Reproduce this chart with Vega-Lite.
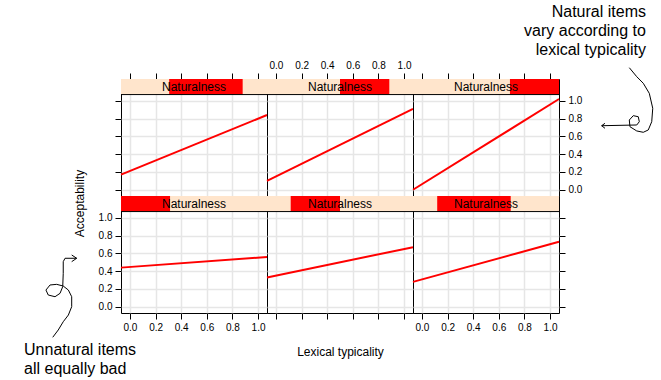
{
  "$schema": "https://vega.github.io/schema/vega-lite/v6.json",
  "autosize": {"type": "none"},
  "padding": {"left": 121, "top": 79, "right": 540, "bottom": 301},
  "background": "#ffffff",
  "config": {
    "view": {"stroke": "#000000", "strokeWidth": 1},
    "axis": {
      "domain": false,
      "tickColor": "#000000",
      "tickSize": 6,
      "tickWidth": 1,
      "tickCount": 12,
      "labelFont": "Liberation Sans",
      "labelFontSize": 10,
      "labelColor": "#000000",
      "labelPadding": 3,
      "labelFlush": false,
      "labelOverlap": false,
      "labelBound": false,
      "gridColor": "#e6e6e6",
      "gridWidth": 1.5,
      "titleFont": "Liberation Sans",
      "titleFontSize": 12,
      "titleFontWeight": "normal",
      "titleColor": "#000000"
    }
  },
  "datasets": {
    "lines": [
      {"panel": 1, "x": -0.07, "y": 0.44}, {"panel": 1, "x": 1.07, "y": 0.56},
      {"panel": 2, "x": -0.07, "y": 0.33}, {"panel": 2, "x": 1.07, "y": 0.67},
      {"panel": 3, "x": -0.07, "y": 0.28}, {"panel": 3, "x": 1.07, "y": 0.73},
      {"panel": 4, "x": -0.07, "y": 0.17}, {"panel": 4, "x": 1.07, "y": 0.84},
      {"panel": 5, "x": -0.07, "y": 0.10}, {"panel": 5, "x": 1.07, "y": 0.91},
      {"panel": 6, "x": -0.07, "y": 0.00}, {"panel": 6, "x": 1.07, "y": 1.02}
    ],
    "strips": [
      {"panel": 1, "label": "Naturalness", "lo": -0.07, "hi": 0.313},
      {"panel": 2, "label": "Naturalness", "lo": 0.115, "hi": 0.50},
      {"panel": 3, "label": "Naturalness", "lo": 0.119, "hi": 0.693},
      {"panel": 4, "label": "Naturalness", "lo": 0.306, "hi": 0.880},
      {"panel": 5, "label": "Naturalness", "lo": 0.50, "hi": 0.885},
      {"panel": 6, "label": "Naturalness", "lo": 0.687, "hi": 1.07}
    ],
    "notes": [
      {"panel": 6, "label": "Natural items\nvary according to\nlexical typicality", "x": 1.749, "y": 1.942},
      {"panel": 1, "label": "Unnatural items\nall equally bad", "x": -0.827, "y": -0.542}
    ],
    "squig": [
      {"panel": 1, "seg": "a", "i": 1, "x": -0.603, "y": -0.343},
      {"panel": 1, "seg": "a", "i": 2, "x": -0.560, "y": -0.261},
      {"panel": 1, "seg": "a", "i": 3, "x": -0.521, "y": -0.168},
      {"panel": 1, "seg": "a", "i": 4, "x": -0.481, "y": -0.093},
      {"panel": 1, "seg": "a", "i": 5, "x": -0.455, "y": 0.001},
      {"panel": 1, "seg": "a", "i": 6, "x": -0.455, "y": 0.113},
      {"panel": 1, "seg": "a", "i": 7, "x": -0.481, "y": 0.188},
      {"panel": 1, "seg": "a", "i": 8, "x": -0.521, "y": 0.233},
      {"panel": 1, "seg": "a", "i": 9, "x": -0.572, "y": 0.252},
      {"panel": 1, "seg": "a", "i": 10, "x": -0.624, "y": 0.245},
      {"panel": 1, "seg": "a", "i": 11, "x": -0.656, "y": 0.188},
      {"panel": 1, "seg": "a", "i": 12, "x": -0.638, "y": 0.132},
      {"panel": 1, "seg": "a", "i": 13, "x": -0.585, "y": 0.113},
      {"panel": 1, "seg": "a", "i": 14, "x": -0.546, "y": 0.151},
      {"panel": 1, "seg": "a", "i": 15, "x": -0.525, "y": 0.226},
      {"panel": 1, "seg": "a", "i": 16, "x": -0.521, "y": 0.376},
      {"panel": 1, "seg": "a", "i": 17, "x": -0.521, "y": 0.507},
      {"panel": 1, "seg": "a", "i": 18, "x": -0.507, "y": 0.545},
      {"panel": 1, "seg": "a", "i": 19, "x": -0.468, "y": 0.545},
      {"panel": 1, "seg": "a", "i": 20, "x": -0.416, "y": 0.545},
      {"panel": 1, "seg": "h", "i": 1, "x": -0.455, "y": 0.582},
      {"panel": 1, "seg": "h", "i": 2, "x": -0.416, "y": 0.545},
      {"panel": 1, "seg": "h", "i": 3, "x": -0.455, "y": 0.507},
      {"panel": 6, "seg": "a", "i": 1, "x": 1.619, "y": 1.372},
      {"panel": 6, "seg": "a", "i": 2, "x": 1.677, "y": 1.271},
      {"panel": 6, "seg": "a", "i": 3, "x": 1.728, "y": 1.197},
      {"panel": 6, "seg": "a", "i": 4, "x": 1.775, "y": 1.084},
      {"panel": 6, "seg": "a", "i": 5, "x": 1.802, "y": 0.916},
      {"panel": 6, "seg": "a", "i": 6, "x": 1.794, "y": 0.765},
      {"panel": 6, "seg": "a", "i": 7, "x": 1.767, "y": 0.672},
      {"panel": 6, "seg": "a", "i": 8, "x": 1.728, "y": 0.646},
      {"panel": 6, "seg": "a", "i": 9, "x": 1.677, "y": 0.661},
      {"panel": 6, "seg": "a", "i": 10, "x": 1.624, "y": 0.709},
      {"panel": 6, "seg": "a", "i": 11, "x": 1.619, "y": 0.784},
      {"panel": 6, "seg": "a", "i": 12, "x": 1.650, "y": 0.833},
      {"panel": 6, "seg": "a", "i": 13, "x": 1.689, "y": 0.821},
      {"panel": 6, "seg": "a", "i": 14, "x": 1.697, "y": 0.765},
      {"panel": 6, "seg": "a", "i": 15, "x": 1.677, "y": 0.728},
      {"panel": 6, "seg": "a", "i": 16, "x": 1.403, "y": 0.720},
      {"panel": 6, "seg": "h", "i": 1, "x": 1.429, "y": 0.747},
      {"panel": 6, "seg": "h", "i": 2, "x": 1.403, "y": 0.720},
      {"panel": 6, "seg": "h", "i": 3, "x": 1.429, "y": 0.691}
    ]
  },
  "concat": [
    {
      "width": 146, "height": 117,
      "layer": [
        {"data": {"name": "lines"}, "transform": [{"filter": "datum.panel == 4"}],
         "mark": {"type": "line", "color": "#ff0000", "strokeWidth": 2},
         "encoding": {
           "x": {"field": "x", "type": "quantitative", "scale": {"domain": [-0.07, 1.07], "nice": false, "zero": false},
                 "axis": {"orient": "top", "values": [0, 0.2, 0.4, 0.6, 0.8, 1], "tickCount": 12, "labels": false, "title": null}},
           "y": {"field": "y", "type": "quantitative", "scale": {"domain": [-0.07, 1.245], "nice": false, "zero": false},
                 "axis": {"orient": "left", "values": [0, 0.2, 0.4, 0.6, 0.8, 1], "tickCount": 12, "labels": false, "title": null}}}},
        {"data": {"name": "strips"}, "transform": [{"filter": "datum.panel == 4"}],
         "mark": {"type": "rect", "fill": "#ffe5cc"},
         "encoding": {
           "x": {"datum": -0.07, "type": "quantitative", "scale": {"domain": [-0.07, 1.07], "nice": false, "zero": false}},
           "x2": {"datum": 1.07},
           "y": {"datum": 1.07, "type": "quantitative", "scale": {"domain": [-0.07, 1.245], "nice": false, "zero": false}},
           "y2": {"datum": 1.245}}},
        {"data": {"name": "strips"}, "transform": [{"filter": "datum.panel == 4"}],
         "mark": {"type": "rect", "fill": "#ff0000"},
         "encoding": {
           "x": {"field": "lo", "type": "quantitative", "scale": {"domain": [-0.07, 1.07], "nice": false, "zero": false}},
           "x2": {"field": "hi"},
           "y": {"datum": 1.07, "type": "quantitative", "scale": {"domain": [-0.07, 1.245], "nice": false, "zero": false}},
           "y2": {"datum": 1.245}}},
        {"data": {"name": "strips"}, "transform": [{"filter": "datum.panel == 4"}],
         "mark": {"type": "text", "font": "Liberation Sans", "fontSize": 12, "baseline": "middle", "color": "#000000"},
         "encoding": {
           "x": {"datum": 0.5, "type": "quantitative", "scale": {"domain": [-0.07, 1.07], "nice": false, "zero": false}},
           "y": {"datum": 1.1575, "type": "quantitative", "scale": {"domain": [-0.07, 1.245], "nice": false, "zero": false}},
           "text": {"field": "label"}}},
        {"data": {"name": "strips"}, "transform": [{"filter": "datum.panel == 4"}],
         "mark": {"type": "rule", "color": "#000000", "strokeWidth": 1},
         "encoding": {
           "y": {"datum": 1.07, "type": "quantitative", "scale": {"domain": [-0.07, 1.245], "nice": false, "zero": false}}}}
      ]
    },
    {
      "width": 146, "height": 117,
      "layer": [
        {"data": {"name": "lines"}, "transform": [{"filter": "datum.panel == 5"}],
         "mark": {"type": "line", "color": "#ff0000", "strokeWidth": 2},
         "encoding": {
           "x": {"field": "x", "type": "quantitative", "scale": {"domain": [-0.07, 1.07], "nice": false, "zero": false},
                 "axis": {"orient": "top", "values": [0, 0.2, 0.4, 0.6, 0.8, 1], "tickCount": 12, "format": ".1f", "title": null}},
           "y": {"field": "y", "type": "quantitative", "scale": {"domain": [-0.07, 1.245], "nice": false, "zero": false},
                 "axis": {"orient": "left", "values": [0, 0.2, 0.4, 0.6, 0.8, 1], "tickCount": 12, "labels": false, "ticks": false, "title": null}}}},
        {"data": {"name": "strips"}, "transform": [{"filter": "datum.panel == 5"}],
         "mark": {"type": "rect", "fill": "#ffe5cc"},
         "encoding": {
           "x": {"datum": -0.07, "type": "quantitative", "scale": {"domain": [-0.07, 1.07], "nice": false, "zero": false}},
           "x2": {"datum": 1.07},
           "y": {"datum": 1.07, "type": "quantitative", "scale": {"domain": [-0.07, 1.245], "nice": false, "zero": false}},
           "y2": {"datum": 1.245}}},
        {"data": {"name": "strips"}, "transform": [{"filter": "datum.panel == 5"}],
         "mark": {"type": "rect", "fill": "#ff0000"},
         "encoding": {
           "x": {"field": "lo", "type": "quantitative", "scale": {"domain": [-0.07, 1.07], "nice": false, "zero": false}},
           "x2": {"field": "hi"},
           "y": {"datum": 1.07, "type": "quantitative", "scale": {"domain": [-0.07, 1.245], "nice": false, "zero": false}},
           "y2": {"datum": 1.245}}},
        {"data": {"name": "strips"}, "transform": [{"filter": "datum.panel == 5"}],
         "mark": {"type": "text", "font": "Liberation Sans", "fontSize": 12, "baseline": "middle", "color": "#000000"},
         "encoding": {
           "x": {"datum": 0.5, "type": "quantitative", "scale": {"domain": [-0.07, 1.07], "nice": false, "zero": false}},
           "y": {"datum": 1.1575, "type": "quantitative", "scale": {"domain": [-0.07, 1.245], "nice": false, "zero": false}},
           "text": {"field": "label"}}},
        {"data": {"name": "strips"}, "transform": [{"filter": "datum.panel == 5"}],
         "mark": {"type": "rule", "color": "#000000", "strokeWidth": 1},
         "encoding": {
           "y": {"datum": 1.07, "type": "quantitative", "scale": {"domain": [-0.07, 1.245], "nice": false, "zero": false}}}}
      ]
    },
    {
      "width": 146, "height": 117,
      "layer": [
        {"data": {"name": "lines"}, "transform": [{"filter": "datum.panel == 6"}],
         "mark": {"type": "line", "color": "#ff0000", "strokeWidth": 2},
         "encoding": {
           "x": {"field": "x", "type": "quantitative", "scale": {"domain": [-0.07, 1.07], "nice": false, "zero": false},
                 "axis": {"orient": "top", "values": [0, 0.2, 0.4, 0.6, 0.8, 1], "tickCount": 12, "labels": false, "title": null}},
           "y": {"field": "y", "type": "quantitative", "scale": {"domain": [-0.07, 1.245], "nice": false, "zero": false},
                 "axis": {"orient": "right", "values": [0, 0.2, 0.4, 0.6, 0.8, 1], "tickCount": 12, "format": ".1f", "title": null}}}},
        {"data": {"name": "strips"}, "transform": [{"filter": "datum.panel == 6"}],
         "mark": {"type": "rect", "fill": "#ffe5cc"},
         "encoding": {
           "x": {"datum": -0.07, "type": "quantitative", "scale": {"domain": [-0.07, 1.07], "nice": false, "zero": false}},
           "x2": {"datum": 1.07},
           "y": {"datum": 1.07, "type": "quantitative", "scale": {"domain": [-0.07, 1.245], "nice": false, "zero": false}},
           "y2": {"datum": 1.245}}},
        {"data": {"name": "strips"}, "transform": [{"filter": "datum.panel == 6"}],
         "mark": {"type": "rect", "fill": "#ff0000"},
         "encoding": {
           "x": {"field": "lo", "type": "quantitative", "scale": {"domain": [-0.07, 1.07], "nice": false, "zero": false}},
           "x2": {"field": "hi"},
           "y": {"datum": 1.07, "type": "quantitative", "scale": {"domain": [-0.07, 1.245], "nice": false, "zero": false}},
           "y2": {"datum": 1.245}}},
        {"data": {"name": "strips"}, "transform": [{"filter": "datum.panel == 6"}],
         "mark": {"type": "text", "font": "Liberation Sans", "fontSize": 12, "baseline": "middle", "color": "#000000"},
         "encoding": {
           "x": {"datum": 0.5, "type": "quantitative", "scale": {"domain": [-0.07, 1.07], "nice": false, "zero": false}},
           "y": {"datum": 1.1575, "type": "quantitative", "scale": {"domain": [-0.07, 1.245], "nice": false, "zero": false}},
           "text": {"field": "label"}}},
        {"data": {"name": "strips"}, "transform": [{"filter": "datum.panel == 6"}],
         "mark": {"type": "rule", "color": "#000000", "strokeWidth": 1},
         "encoding": {
           "y": {"datum": 1.07, "type": "quantitative", "scale": {"domain": [-0.07, 1.245], "nice": false, "zero": false}}}},
        {"data": {"name": "notes"}, "transform": [{"filter": "datum.panel == 6"}],
         "mark": {"type": "text", "font": "Liberation Sans", "fontSize": 16, "align": "right", "baseline": "alphabetic", "lineBreak": "\n", "lineHeight": 19, "color": "#000000"},
         "encoding": {
           "x": {"field": "x", "type": "quantitative", "scale": {"domain": [-0.07, 1.07], "nice": false, "zero": false}},
           "y": {"field": "y", "type": "quantitative", "scale": {"domain": [-0.07, 1.245], "nice": false, "zero": false}},
           "text": {"field": "label"}}},
        {"data": {"name": "squig"}, "transform": [{"filter": "datum.panel == 6"}],
         "mark": {"type": "line", "color": "#000000", "strokeWidth": 1},
         "encoding": {
           "x": {"field": "x", "type": "quantitative", "scale": {"domain": [-0.07, 1.07], "nice": false, "zero": false}},
           "y": {"field": "y", "type": "quantitative", "scale": {"domain": [-0.07, 1.245], "nice": false, "zero": false}},
           "order": {"field": "i", "type": "quantitative"},
           "detail": {"field": "seg"}}}
      ]
    },
    {
      "width": 146, "height": 117,
      "layer": [
        {"data": {"name": "lines"}, "transform": [{"filter": "datum.panel == 1"}],
         "mark": {"type": "line", "color": "#ff0000", "strokeWidth": 2},
         "encoding": {
           "x": {"field": "x", "type": "quantitative", "scale": {"domain": [-0.07, 1.07], "nice": false, "zero": false},
                 "axis": {"orient": "bottom", "values": [0, 0.2, 0.4, 0.6, 0.8, 1], "tickCount": 12, "format": ".1f", "title": null}},
           "y": {"field": "y", "type": "quantitative", "scale": {"domain": [-0.07, 1.245], "nice": false, "zero": false},
                 "axis": {"orient": "left", "values": [0, 0.2, 0.4, 0.6, 0.8, 1], "tickCount": 12, "format": ".1f", "title": "Acceptability", "titleX": -37.5, "titleY": 7, "titleBaseline": "alphabetic", "titleAngle": 270}}}},
        {"data": {"name": "strips"}, "transform": [{"filter": "datum.panel == 1"}],
         "mark": {"type": "rect", "fill": "#ffe5cc"},
         "encoding": {
           "x": {"datum": -0.07, "type": "quantitative", "scale": {"domain": [-0.07, 1.07], "nice": false, "zero": false}},
           "x2": {"datum": 1.07},
           "y": {"datum": 1.07, "type": "quantitative", "scale": {"domain": [-0.07, 1.245], "nice": false, "zero": false}},
           "y2": {"datum": 1.245}}},
        {"data": {"name": "strips"}, "transform": [{"filter": "datum.panel == 1"}],
         "mark": {"type": "rect", "fill": "#ff0000"},
         "encoding": {
           "x": {"field": "lo", "type": "quantitative", "scale": {"domain": [-0.07, 1.07], "nice": false, "zero": false}},
           "x2": {"field": "hi"},
           "y": {"datum": 1.07, "type": "quantitative", "scale": {"domain": [-0.07, 1.245], "nice": false, "zero": false}},
           "y2": {"datum": 1.245}}},
        {"data": {"name": "strips"}, "transform": [{"filter": "datum.panel == 1"}],
         "mark": {"type": "text", "font": "Liberation Sans", "fontSize": 12, "baseline": "middle", "color": "#000000"},
         "encoding": {
           "x": {"datum": 0.5, "type": "quantitative", "scale": {"domain": [-0.07, 1.07], "nice": false, "zero": false}},
           "y": {"datum": 1.1575, "type": "quantitative", "scale": {"domain": [-0.07, 1.245], "nice": false, "zero": false}},
           "text": {"field": "label"}}},
        {"data": {"name": "strips"}, "transform": [{"filter": "datum.panel == 1"}],
         "mark": {"type": "rule", "color": "#000000", "strokeWidth": 1},
         "encoding": {
           "y": {"datum": 1.07, "type": "quantitative", "scale": {"domain": [-0.07, 1.245], "nice": false, "zero": false}}}},
        {"data": {"name": "notes"}, "transform": [{"filter": "datum.panel == 1"}],
         "mark": {"type": "text", "font": "Liberation Sans", "fontSize": 16, "align": "left", "baseline": "alphabetic", "lineBreak": "\n", "lineHeight": 19, "color": "#000000"},
         "encoding": {
           "x": {"field": "x", "type": "quantitative", "scale": {"domain": [-0.07, 1.07], "nice": false, "zero": false}},
           "y": {"field": "y", "type": "quantitative", "scale": {"domain": [-0.07, 1.245], "nice": false, "zero": false}},
           "text": {"field": "label"}}},
        {"data": {"name": "squig"}, "transform": [{"filter": "datum.panel == 1"}],
         "mark": {"type": "line", "color": "#000000", "strokeWidth": 1},
         "encoding": {
           "x": {"field": "x", "type": "quantitative", "scale": {"domain": [-0.07, 1.07], "nice": false, "zero": false}},
           "y": {"field": "y", "type": "quantitative", "scale": {"domain": [-0.07, 1.245], "nice": false, "zero": false}},
           "order": {"field": "i", "type": "quantitative"},
           "detail": {"field": "seg"}}}
      ]
    },
    {
      "width": 146, "height": 117,
      "layer": [
        {"data": {"name": "lines"}, "transform": [{"filter": "datum.panel == 2"}],
         "mark": {"type": "line", "color": "#ff0000", "strokeWidth": 2},
         "encoding": {
           "x": {"field": "x", "type": "quantitative", "scale": {"domain": [-0.07, 1.07], "nice": false, "zero": false},
                 "axis": {"orient": "bottom", "values": [0, 0.2, 0.4, 0.6, 0.8, 1], "tickCount": 12, "labels": false, "title": "Lexical typicality", "titleY": 42, "titleBaseline": "alphabetic"}},
           "y": {"field": "y", "type": "quantitative", "scale": {"domain": [-0.07, 1.245], "nice": false, "zero": false},
                 "axis": {"orient": "left", "values": [0, 0.2, 0.4, 0.6, 0.8, 1], "tickCount": 12, "labels": false, "ticks": false, "title": null}}}},
        {"data": {"name": "strips"}, "transform": [{"filter": "datum.panel == 2"}],
         "mark": {"type": "rect", "fill": "#ffe5cc"},
         "encoding": {
           "x": {"datum": -0.07, "type": "quantitative", "scale": {"domain": [-0.07, 1.07], "nice": false, "zero": false}},
           "x2": {"datum": 1.07},
           "y": {"datum": 1.07, "type": "quantitative", "scale": {"domain": [-0.07, 1.245], "nice": false, "zero": false}},
           "y2": {"datum": 1.245}}},
        {"data": {"name": "strips"}, "transform": [{"filter": "datum.panel == 2"}],
         "mark": {"type": "rect", "fill": "#ff0000"},
         "encoding": {
           "x": {"field": "lo", "type": "quantitative", "scale": {"domain": [-0.07, 1.07], "nice": false, "zero": false}},
           "x2": {"field": "hi"},
           "y": {"datum": 1.07, "type": "quantitative", "scale": {"domain": [-0.07, 1.245], "nice": false, "zero": false}},
           "y2": {"datum": 1.245}}},
        {"data": {"name": "strips"}, "transform": [{"filter": "datum.panel == 2"}],
         "mark": {"type": "text", "font": "Liberation Sans", "fontSize": 12, "baseline": "middle", "color": "#000000"},
         "encoding": {
           "x": {"datum": 0.5, "type": "quantitative", "scale": {"domain": [-0.07, 1.07], "nice": false, "zero": false}},
           "y": {"datum": 1.1575, "type": "quantitative", "scale": {"domain": [-0.07, 1.245], "nice": false, "zero": false}},
           "text": {"field": "label"}}},
        {"data": {"name": "strips"}, "transform": [{"filter": "datum.panel == 2"}],
         "mark": {"type": "rule", "color": "#000000", "strokeWidth": 1},
         "encoding": {
           "y": {"datum": 1.07, "type": "quantitative", "scale": {"domain": [-0.07, 1.245], "nice": false, "zero": false}}}}
      ]
    },
    {
      "width": 146, "height": 117,
      "layer": [
        {"data": {"name": "lines"}, "transform": [{"filter": "datum.panel == 3"}],
         "mark": {"type": "line", "color": "#ff0000", "strokeWidth": 2},
         "encoding": {
           "x": {"field": "x", "type": "quantitative", "scale": {"domain": [-0.07, 1.07], "nice": false, "zero": false},
                 "axis": {"orient": "bottom", "values": [0, 0.2, 0.4, 0.6, 0.8, 1], "tickCount": 12, "format": ".1f", "title": null}},
           "y": {"field": "y", "type": "quantitative", "scale": {"domain": [-0.07, 1.245], "nice": false, "zero": false},
                 "axis": {"orient": "right", "values": [0, 0.2, 0.4, 0.6, 0.8, 1], "tickCount": 12, "labels": false, "title": null}}}},
        {"data": {"name": "strips"}, "transform": [{"filter": "datum.panel == 3"}],
         "mark": {"type": "rect", "fill": "#ffe5cc"},
         "encoding": {
           "x": {"datum": -0.07, "type": "quantitative", "scale": {"domain": [-0.07, 1.07], "nice": false, "zero": false}},
           "x2": {"datum": 1.07},
           "y": {"datum": 1.07, "type": "quantitative", "scale": {"domain": [-0.07, 1.245], "nice": false, "zero": false}},
           "y2": {"datum": 1.245}}},
        {"data": {"name": "strips"}, "transform": [{"filter": "datum.panel == 3"}],
         "mark": {"type": "rect", "fill": "#ff0000"},
         "encoding": {
           "x": {"field": "lo", "type": "quantitative", "scale": {"domain": [-0.07, 1.07], "nice": false, "zero": false}},
           "x2": {"field": "hi"},
           "y": {"datum": 1.07, "type": "quantitative", "scale": {"domain": [-0.07, 1.245], "nice": false, "zero": false}},
           "y2": {"datum": 1.245}}},
        {"data": {"name": "strips"}, "transform": [{"filter": "datum.panel == 3"}],
         "mark": {"type": "text", "font": "Liberation Sans", "fontSize": 12, "baseline": "middle", "color": "#000000"},
         "encoding": {
           "x": {"datum": 0.5, "type": "quantitative", "scale": {"domain": [-0.07, 1.07], "nice": false, "zero": false}},
           "y": {"datum": 1.1575, "type": "quantitative", "scale": {"domain": [-0.07, 1.245], "nice": false, "zero": false}},
           "text": {"field": "label"}}},
        {"data": {"name": "strips"}, "transform": [{"filter": "datum.panel == 3"}],
         "mark": {"type": "rule", "color": "#000000", "strokeWidth": 1},
         "encoding": {
           "y": {"datum": 1.07, "type": "quantitative", "scale": {"domain": [-0.07, 1.245], "nice": false, "zero": false}}}}
      ]
    }
  ],
  "columns": 3,
  "spacing": 0,
  "bounds": "flush"
}
